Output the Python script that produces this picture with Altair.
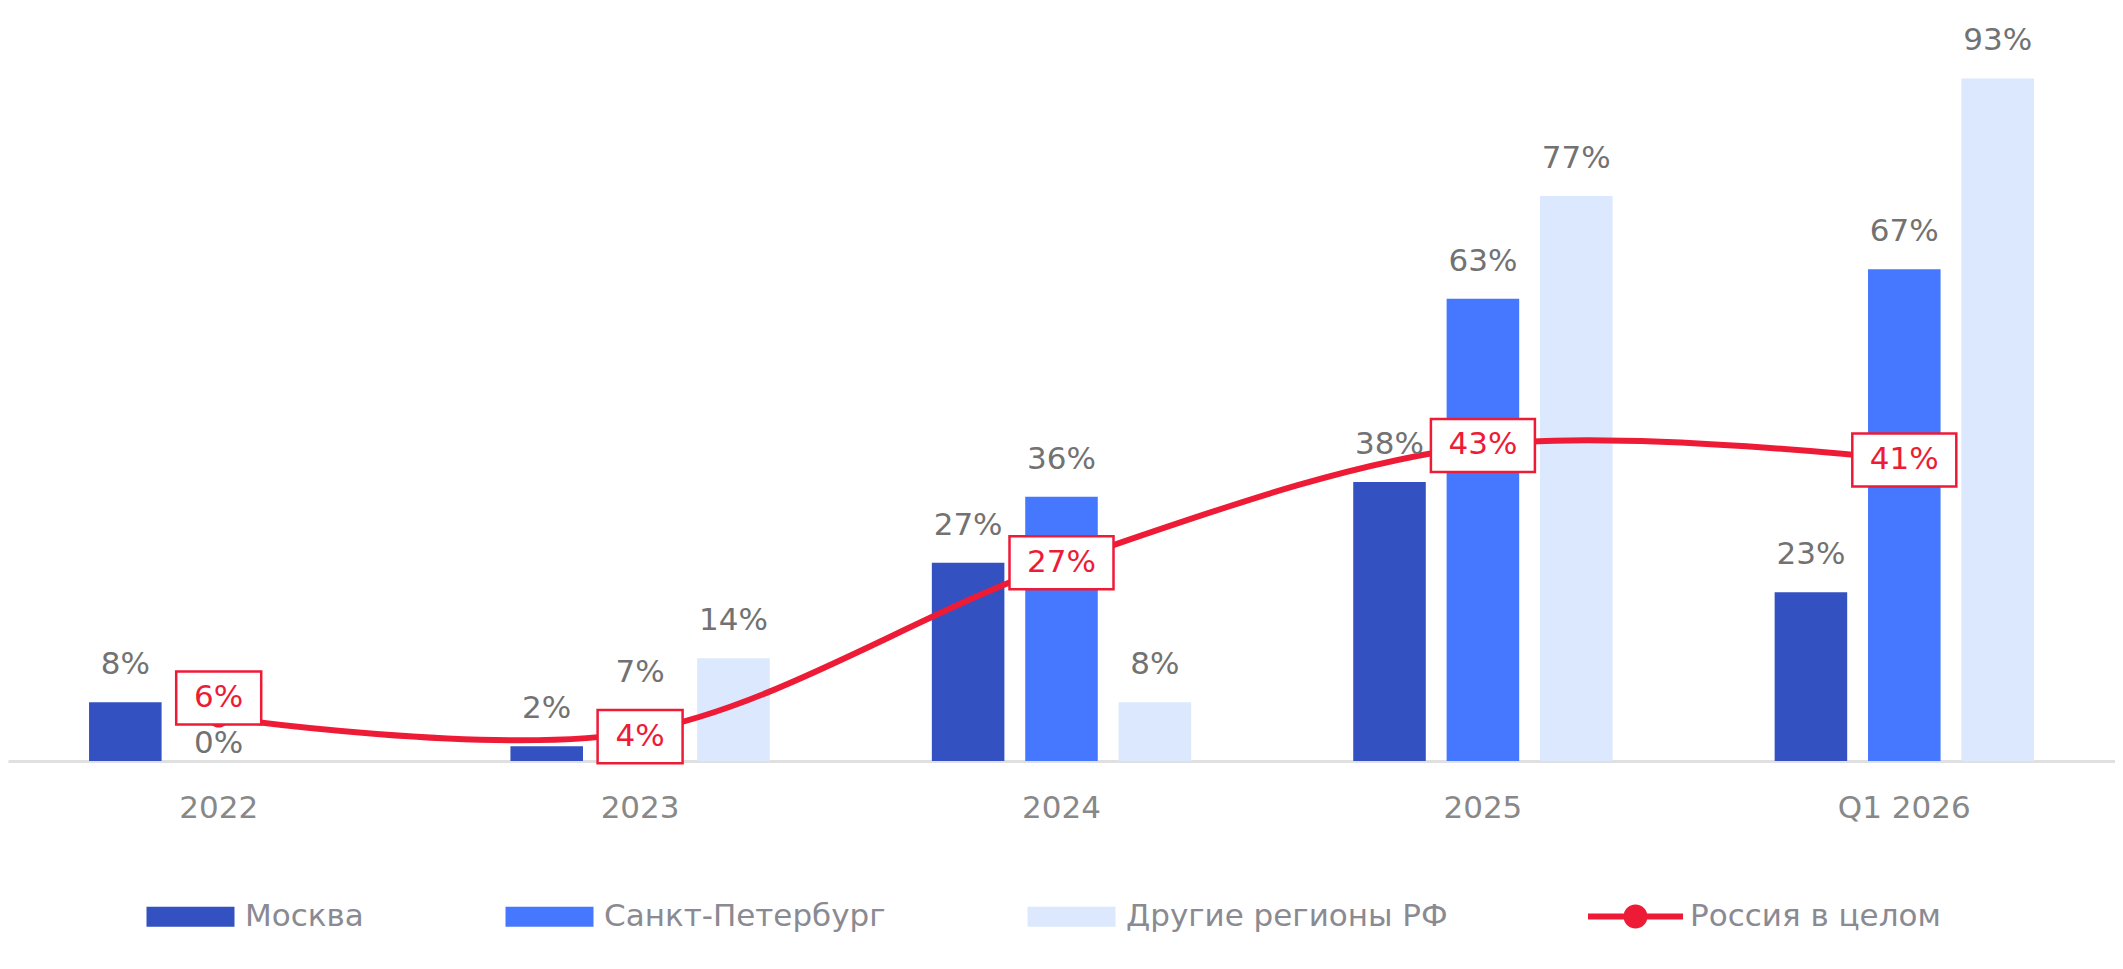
import altair as alt
import pandas as pd

periods = ["2022", "2023", "2024", "2025", "Q1 2026"]
series_names = ["Москва", "Санкт-Петербург", "Другие регионы РФ"]
moscow = [8, 2, 27, 38, 23]
spb = [0, 7, 36, 63, 67]
other = [None, 14, 8, 77, 93]
russia = [6, 4, 27, 43, 41]
russia_name = "Россия в целом"
bar_colors = ["#3351C1", "#4677FF", "#DCE8FD"]
RED = "#EE1B37"

FONT = "DejaVu Sans"

rows = []
for name, vals in zip(series_names, [moscow, spb, other]):
    for p, v in zip(periods, vals):
        if v is None:
            continue
        rows.append({"period": p, "series": name, "value": v, "label": f"{v}%"})
bars_df = pd.DataFrame(rows)

line_df = pd.DataFrame({
    "period": periods,
    "series": [russia_name] * len(periods),
    "value": russia,
    "label": [f"{v}%" for v in russia],
})

rect_path = "M-2.933,-0.667L2.933,-0.667L2.933,0.667L-2.933,0.667Z"
line_path = ("M-3.167,-0.2L3.167,-0.2L3.167,0.2L-3.167,0.2Z "
             "M-0.8,0A0.8,0.8 0 1,1 0.8,0A0.8,0.8 0 1,1 -0.8,0Z")

common_legend = dict(
    title=None, orient="none", direction="horizontal",
    columnPadding=141, labelOffset=39, symbolSize=900, labelFontSize=31,
    labelFont=FONT, labelColor="#8a8a92", labelLimit=800, padding=0,
    symbolStrokeWidth=0, symbolOpacity=1,
)
bar_legend = alt.Legend(legendX=167, legendY=893, columns=3,
                        symbolType=rect_path, **common_legend)
line_legend = alt.Legend(legendX=1612, legendY=893, columns=1,
                         symbolType=line_path, **common_legend)

x_enc = alt.X("period:N", sort=periods,
              scale=alt.Scale(paddingInner=0.3846, paddingOuter=0.1923),
              axis=alt.Axis(title=None, ticks=False, domainColor="#e0e0e0",
                            domainWidth=3, labelFontSize=31, labelFont=FONT,
                            labelColor="#888888", labelPadding=32, labelAngle=0))
y_enc = alt.Y("value:Q", scale=alt.Scale(domain=[0, 102.6], nice=False), axis=None)
xoff = alt.XOffset("series:N", sort=series_names,
                   scale=alt.Scale(domain=series_names, paddingInner=0.223, paddingOuter=0))

bars = alt.Chart(bars_df).mark_bar().encode(
    x=x_enc, y=y_enc, xOffset=xoff,
    color=alt.Color("series:N", sort=series_names,
                    scale=alt.Scale(domain=series_names, range=bar_colors),
                    legend=bar_legend),
)

bar_labels = alt.Chart(bars_df).transform_filter("datum.value > 0").mark_text(
    baseline="alphabetic", dy=-28, fontSize=31, font=FONT, color="#727272"
).encode(x=x_enc, y=y_enc, xOffset=xoff, text="label:N")

zero_labels = alt.Chart(bars_df).transform_filter("datum.value == 0").mark_text(
    baseline="alphabetic", dy=-8, fontSize=31, font=FONT, color="#727272"
).encode(x=x_enc, y=y_enc, xOffset=xoff, text="label:N")

line = alt.Chart(line_df).mark_line(interpolate="cardinal", strokeWidth=6, color=RED).encode(
    x=x_enc, y=y_enc,
)
points = alt.Chart(line_df).mark_point(filled=True, size=452, opacity=1).encode(
    x=x_enc, y=y_enc,
    color=alt.Color("series:N", scale=alt.Scale(domain=[russia_name], range=[RED]),
                    legend=line_legend),
)

narrow_box = "M-1,-0.624L1,-0.624L1,0.624L-1,0.624Z"
wide_box = "M-1,-0.51L1,-0.51L1,0.51L-1,0.51Z"


def box_layer(filter_expr, shape, size, yoff):
    base = alt.Chart(line_df).transform_filter(filter_expr)
    box = base.mark_point(shape=shape, size=size, filled=True, fill="white",
                          stroke=RED, strokeWidth=2.5, opacity=1,
                          yOffset=yoff).encode(x=x_enc, y=y_enc)
    txt = base.mark_text(fontSize=31, font=FONT, color=RED, baseline="middle",
                         yOffset=yoff).encode(x=x_enc, y=y_enc, text="label:N")
    return [box, txt]


layers = [bars, line, points, bar_labels, zero_labels]
layers += box_layer("datum.period === '2022'", narrow_box, 85 * 85, -19)
layers += box_layer("datum.period === '2023'", narrow_box, 85 * 85, 5)
layers += box_layer("datum.period !== '2022' && datum.period !== '2023'",
                    wide_box, 104 * 104, 0)

chart = alt.layer(*layers).resolve_scale(color="independent").properties(
    width=2107, height=753, padding=0
).configure(font=FONT).configure_view(stroke=None)

chart.save("out.html", embed_options={"renderer": "svg", "actions": False})
